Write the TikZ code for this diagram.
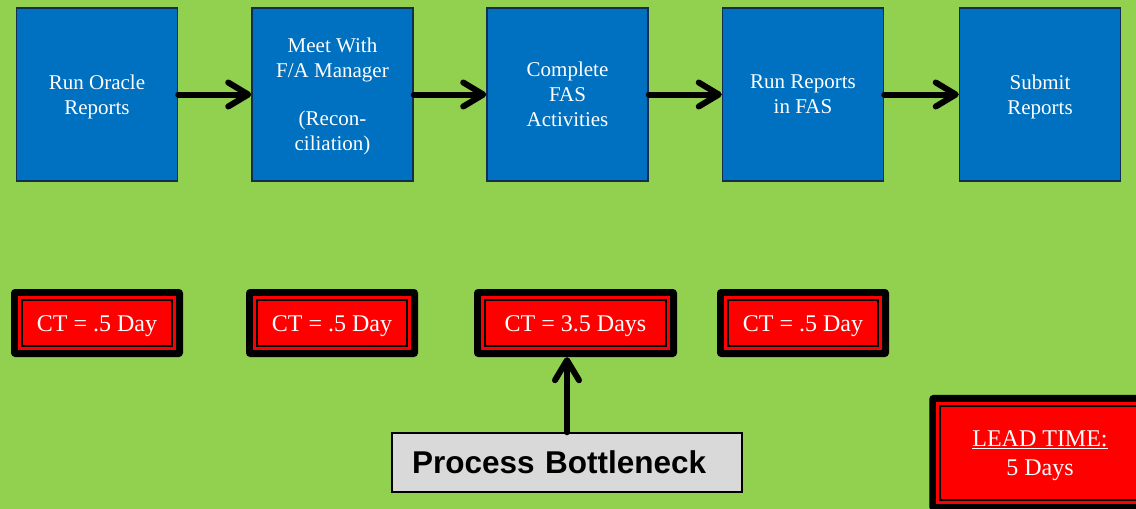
\documentclass[tikz,border=0pt]{standalone}
\usepackage{fontspec}
\setmainfont{Liberation Serif}
\newfontfamily\arialfont{Liberation Sans}
\usetikzlibrary{arrows.meta,fit,backgrounds}
\definecolor{bggreen}{HTML}{92D050}
\definecolor{boxblue}{HTML}{0070C0}
\definecolor{boxedge}{RGB}{20,45,80}
\definecolor{ctred}{HTML}{FF0000}
\definecolor{bngray}{HTML}{D9D9D9}
\tikzset{
  stepbox/.style={rectangle, fill=boxblue, draw=boxedge, line width=1.5pt,
    minimum width=161pt, minimum height=173pt, inner sep=0pt, text=white,
    align=center, text depth=0pt, font=\fontsize{21}{25}\selectfont},
  ctbox/.style={rectangle, fill=ctred, draw=black, line width=2pt,
    minimum height=46.6pt, inner sep=0pt, text=white,
    align=center, font=\fontsize{24}{29}\selectfont},
  cttext/.style={text height=16pt, text depth=0pt},
  ctframe/.style={rectangle, fill=black, rounded corners=4pt, inner sep=9.7pt},
  ctband/.style={rectangle, fill=ctred, inner sep=2.7pt},
  flow/.style={line width=6pt, line cap=round,
    -{Straight Barb[length=20pt,width=24pt,line cap=round,line join=round]}},
  bnbox/.style={rectangle, fill=bngray, draw=black, line width=1.5pt,
    minimum width=350pt, minimum height=59pt, text width=310pt, inner xsep=20pt,
    align=left, font=\arialfont\bfseries\fontsize{31.5}{36}\selectfont},
}
\begin{document}
\begin{tikzpicture}[x=1pt,y=-1pt]
\useasboundingbox (0,0) rectangle (1136,509);
\clip (0,0) rectangle (1136,509);

% process steps
\node[stepbox] (b1) at (97,94.5) {Run Oracle\\Reports};
\node[stepbox] (b2) at (332.5,94.5) {Meet With\\F/A Manager\\[23pt](Recon-\\ciliation)};
\node[stepbox] (b3) at (567.5,94.5) {Complete\\FAS\\Activities};
\node[stepbox] (b4) at (803,94.5) {Run Reports\\in FAS};
\node[stepbox] (b5) at (1040,94.5) {Submit\\Reports};

\draw[flow] (b1.east) -- (b2.west);
\draw[flow] (b2.east) -- (b3.west);
\draw[flow] (b3.east) -- (b4.west);
\draw[flow] (b4.east) -- (b5.west);

% cycle times
\node[ctbox, cttext, minimum width=150.6pt] (ct1) at (97,323) {CT = .5 Day};
\node[ctbox, cttext, minimum width=150.6pt] (ct2) at (332,323) {CT = .5 Day};
\node[ctbox, cttext, minimum width=181.6pt] (ct3) at (575.5,323) {CT = 3.5 Days};
\node[ctbox, cttext, minimum width=150.6pt] (ct4) at (803,323) {CT = .5 Day};

% lead time
\node[ctbox, text depth=0pt, minimum width=200pt, minimum height=94.8pt] (lt) at (1040,453)
  {\underline{LEAD TIME:}\\5 Days};

\begin{scope}[on background layer]
  \fill[bggreen] (0,0) rectangle (1136,509);
  \foreach \n in {ct1,ct2,ct3,ct4,lt}{
    \node[ctframe, fit=(\n)] (\n f) {};
    \node[ctband, fit=(\n)] {};
  }
\end{scope}

% bottleneck
\node[bnbox] (bn) at (567,462.5) {Process Bottleneck};
\draw[flow] (bn.north) -- (bn.north |- ct3f.south);
\end{tikzpicture}
\end{document}
